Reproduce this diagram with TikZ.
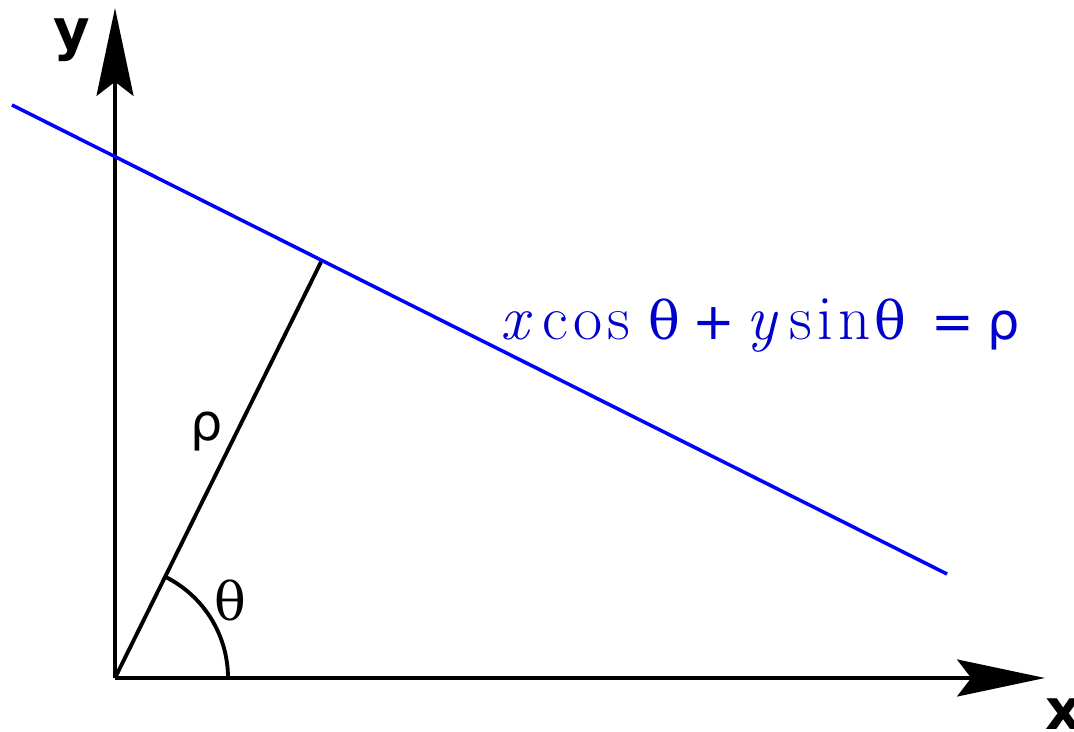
\documentclass[tikz,border=0pt]{standalone}
\usepackage{fontspec}
\newfontfamily\sansfont{DejaVu Sans}
\newfontfamily\sansbold{DejaVu Sans Bold}
\newfontfamily\greekfont{DejaVu Serif}
\usetikzlibrary{arrows.meta,calc}

\newcommand{\gr}[1]{{\greekfont\fontsize{30}{32}\selectfont #1}}
\newcommand{\sa}[1]{{\sansfont\fontsize{29}{30}\selectfont #1}}
% piece of the equation set at a fixed offset from its start
\newcommand{\eqat}[2]{\rlap{\hspace{#1}#2}}

\begin{document}
\begin{tikzpicture}[x=0.02cm, y=0.02cm]
    \useasboundingbox (0,0) rectangle (1074,732);

    % Styles
    \tikzset{
        axis/.style={black, line width=2.3pt, -{Stealth[length=50pt, width=21pt, inset=8pt]}},
        normal/.style={black, line width=2.2pt},
        houghline/.style={blue, line width=2pt},
        axislabel/.style={font=\sansbold\fontsize{32}{34}\selectfont, inner sep=0pt},
        greeklabel/.style={inner sep=0pt},
        eqn/.style={text=blue!80!black, inner sep=0pt, font=\fontsize{36}{40}\selectfont}
    }

    % --- POINTS ---
    \coordinate (O) at (115,54);
    \coordinate (ytip) at (115,724);
    \coordinate (xtip) at (1045,54);
    \coordinate (L1) at (12,627);
    \coordinate (L2) at (947,158);
    \coordinate (F) at (321,470);

    % --- AXES ---
    \draw[axis] (O) -- (ytip);
    \draw[axis] (O) -- (xtip);
    \node[axislabel] (ylab) at (72,692) {y};
    \node[axislabel] (xlab) at (1064,18) {x};

    % --- LINE AND NORMAL ---
    \draw[houghline] (L1) -- (L2);
    \draw[normal] (O) -- (F);
    \draw[normal] ($(O)+(113,0)$) arc[start angle=0, end angle=63.66, radius=2.26cm];

    \node[greeklabel] (rho) at (207,300) {\sa{ρ}};
    \node[greeklabel] (theta) at (230,132) {\gr{θ}};

    % --- EQUATION ---
    \node[eqn, anchor=base west] (eq) at (500,392)
        {\eqat{0pt}{\itshape x}\eqat{23.9pt}{c\kern3pt o\kern3pt s}\eqat{84.2pt}{\gr{θ}}\eqat{109.5pt}{\sa{+}}%
         \eqat{140pt}{\itshape y}\eqat{164.4pt}{s\kern3pt i\kern3pt n}\eqat{212.8pt}{\gr{θ}}\eqat{245.5pt}{\sa{=}}%
         \hspace{277.1pt}\sa{ρ}};
\end{tikzpicture}
\end{document}
